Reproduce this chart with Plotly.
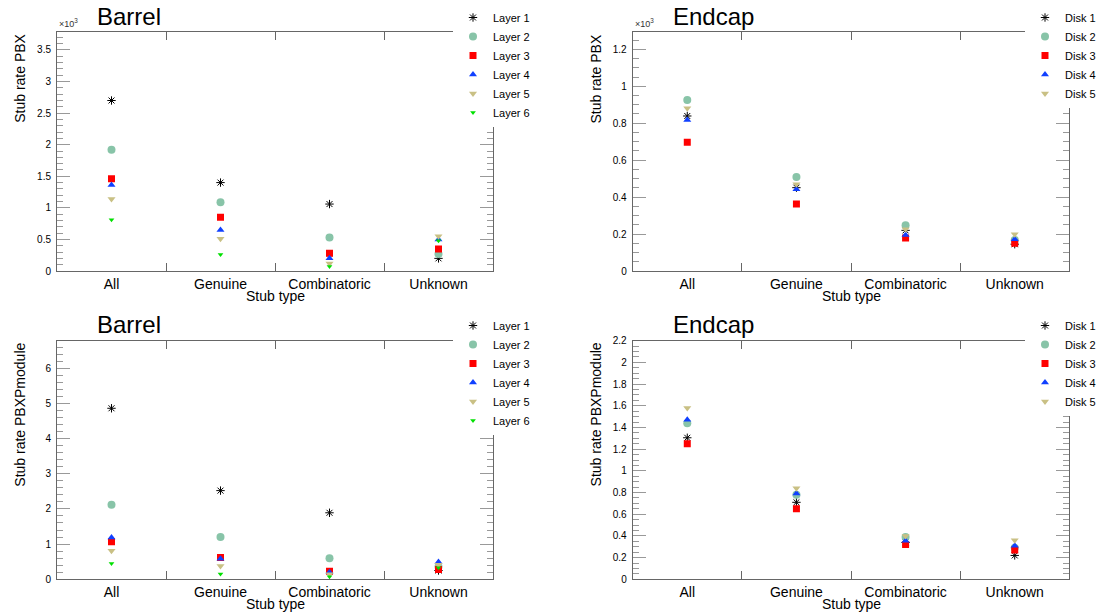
import plotly.graph_objects as go

W, H = 1099, 614

# ---------------- data ----------------
stub_types = ["All", "Genuine", "Combinatoric", "Unknown"]

layer_names = ["Layer 1", "Layer 2", "Layer 3", "Layer 4", "Layer 5", "Layer 6"]
disk_names = ["Disk 1", "Disk 2", "Disk 3", "Disk 4", "Disk 5"]

# Barrel, stub rate per BX
barrel_pbx_layer1 = [2700, 1400, 1060, 200]
barrel_pbx_layer2 = [1920, 1090, 530, 270]
barrel_pbx_layer3 = [1460, 850, 280, 350]
barrel_pbx_layer4 = [1360, 650, 200, 500]
barrel_pbx_layer5 = [1140, 510, 120, 550]
barrel_pbx_layer6 = [810, 260, 70, 480]

# Endcap, stub rate per BX
endcap_pbx_disk1 = [839, 451, 220, 145]
endcap_pbx_disk2 = [926, 509, 247, 168]
endcap_pbx_disk3 = [697, 363, 179, 150]
endcap_pbx_disk4 = [817, 442, 195, 172]
endcap_pbx_disk5 = [881, 469, 226, 199]

# Barrel, stub rate per BX per module
barrel_pbxpm_layer1 = [4.86, 2.52, 1.89, 0.25]
barrel_pbxpm_layer2 = [2.12, 1.20, 0.60, 0.36]
barrel_pbxpm_layer3 = [1.07, 0.62, 0.23, 0.28]
barrel_pbxpm_layer4 = [1.19, 0.585, 0.20, 0.49]
barrel_pbxpm_layer5 = [0.81, 0.38, 0.14, 0.41]
barrel_pbxpm_layer6 = [0.45, 0.15, 0.075, 0.33]

# Endcap, stub rate per BX per module
endcap_pbxpm_disk1 = [1.305, 0.71, 0.34, 0.22]
endcap_pbxpm_disk2 = [1.44, 0.78, 0.39, 0.29]
endcap_pbxpm_disk3 = [1.25, 0.65, 0.32, 0.27]
endcap_pbxpm_disk4 = [1.47, 0.79, 0.355, 0.31]
endcap_pbxpm_disk5 = [1.58, 0.84, 0.40, 0.36]

# ---------------- styles ----------------
FONT = "Liberation Sans, Arial, Helvetica, sans-serif"
styles = [
    dict(symbol="asterisk-open", color="#000000", size=7),
    dict(symbol="circle", color="#88c4a8", size=8),
    dict(symbol="square", color="#ff0000", size=7),
    dict(symbol="triangle-up", color="#1040ff", size=7),
    dict(symbol="triangle-down", color="#c9c084", size=7),
    dict(symbol="triangle-down", color="#00e000", size=5),
]

# panel frames in pixels: x0, x1, ytop, ybottom
panels = {
    1: (57, 493, 32.3, 271),
    2: (632.7, 1069.3, 32.3, 271),
    3: (57, 493, 340.7, 579.3),
    4: (632.7, 1069.3, 340.7, 579.3),
}

fig = go.Figure()

panel_series = {
    1: (layer_names, [barrel_pbx_layer1, barrel_pbx_layer2, barrel_pbx_layer3,
                      barrel_pbx_layer4, barrel_pbx_layer5, barrel_pbx_layer6], 1e3),
    2: (disk_names, [endcap_pbx_disk1, endcap_pbx_disk2, endcap_pbx_disk3,
                     endcap_pbx_disk4, endcap_pbx_disk5], 1e3),
    3: (layer_names, [barrel_pbxpm_layer1, barrel_pbxpm_layer2, barrel_pbxpm_layer3,
                      barrel_pbxpm_layer4, barrel_pbxpm_layer5, barrel_pbxpm_layer6], 1),
    4: (disk_names, [endcap_pbxpm_disk1, endcap_pbxpm_disk2, endcap_pbxpm_disk3,
                     endcap_pbxpm_disk4, endcap_pbxpm_disk5], 1),
}

legend_ids = {1: "legend", 2: "legend2", 3: "legend3", 4: "legend4"}

for p, (names, series, scale) in panel_series.items():
    sfx = "" if p == 1 else str(p)
    for name, vals, st in zip(names, series, styles):
        fig.add_trace(go.Scatter(
            x=stub_types, y=[v / scale for v in vals],
            mode="markers", name=name,
            xaxis="x" + sfx, yaxis="y" + sfx,
            legend=legend_ids[p],
            marker=dict(symbol=st["symbol"], color=st["color"], size=st["size"],
                        line=dict(width=1 if st["symbol"] == "asterisk-open" else 0,
                                  color=st["color"])),
            hovertemplate="%{x}: %{y}<extra>" + name + "</extra>",
        ))

yranges = {1: (3.78, 0.5, 0.1), 2: (1.292, 0.2, 0.05), 3: (6.78, 1, 0.2), 4: (2.2, 0.2, 0.05)}
ytitles = {1: "Stub rate PBX", 2: "Stub rate PBX", 3: "Stub rate PBXPmodule", 4: "Stub rate PBXPmodule"}
ptitles = {1: "Barrel", 2: "Endcap", 3: "Barrel", 4: "Endcap"}

layout = dict(
    width=W, height=H,
    margin=dict(l=0, r=0, t=0, b=0, autoexpand=False),
    paper_bgcolor="white", plot_bgcolor="white",
    font=dict(family=FONT, color="black"),
    showlegend=True,
)

annotations = []
for p, (x0, x1, yt, yb) in panels.items():
    sfx = "" if p == 1 else str(p)
    ymax, dt, mdt = yranges[p]
    layout["xaxis" + sfx] = dict(
        domain=[x0 / W, x1 / W], anchor="y" + sfx, type="category",
        range=[-0.5, 3.5], tickson="boundaries", ticks="inside", ticklen=8,
        tickcolor="#666", showline=True, linecolor="#666", linewidth=1, mirror="ticks",
        showgrid=False, zeroline=False, tickfont=dict(size=14, family=FONT),
    )
    layout["yaxis" + sfx] = dict(
        domain=[(H - yb) / H, (H - yt) / H], anchor="x" + sfx,
        range=[0, ymax], tick0=0, dtick=dt, ticks="inside", ticklen=13,
        tickcolor="#999", showline=True, linecolor="#666", linewidth=1, mirror="ticks",
        showgrid=False, zeroline=False, tickfont=dict(size=10, family=FONT),
        ticklabelstandoff=3,
        minor=dict(dtick=mdt, tick0=0, ticks="inside", ticklen=6, tickcolor="#999"),
    )
    # panel title
    annotations.append(dict(text=ptitles[p], x=(x0 + 38) / W, y=(H - (yt - 16)) / H,
                            xref="paper", yref="paper", xanchor="left", yanchor="middle",
                            showarrow=False, font=dict(size=24, family=FONT)))
    # y axis title (top aligned, ROOT style)
    annotations.append(dict(text=ytitles[p], x=(x0 - 37) / W, y=(H - yt) / H,
                            xref="paper", yref="paper", xanchor="center", yanchor="top",
                            textangle=-90, showarrow=False, font=dict(size=14, family=FONT)))
    # x axis title
    annotations.append(dict(text="Stub type", x=(x0 + x1) / 2 / W, y=(H - (yb + 25)) / H,
                            xref="paper", yref="paper", xanchor="center", yanchor="middle",
                            showarrow=False, font=dict(size=14, family=FONT)))
    if p in (1, 2):
        annotations.append(dict(text="×10<sup>3</sup>", x=x0 / W, y=(H - yt + 1) / H,
                                xref="paper", yref="paper", xanchor="left", yanchor="bottom",
                                showarrow=False, font=dict(size=9, family=FONT, color="#333")))

layout["annotations"] = annotations

leg_pos = {1: (453, 3), 2: (1025, 3), 3: (453, 311), 4: (1025, 311)}
for p, (lx, ly) in leg_pos.items():
    layout[legend_ids[p]] = dict(
        x=lx / W, y=(H - ly) / H, xanchor="left", yanchor="top",
        bgcolor="white", borderwidth=0, font=dict(size=11, family=FONT),
        itemwidth=30, tracegroupgap=0,
    )

fig.update_layout(**layout)
fig.write_html("out.html")
